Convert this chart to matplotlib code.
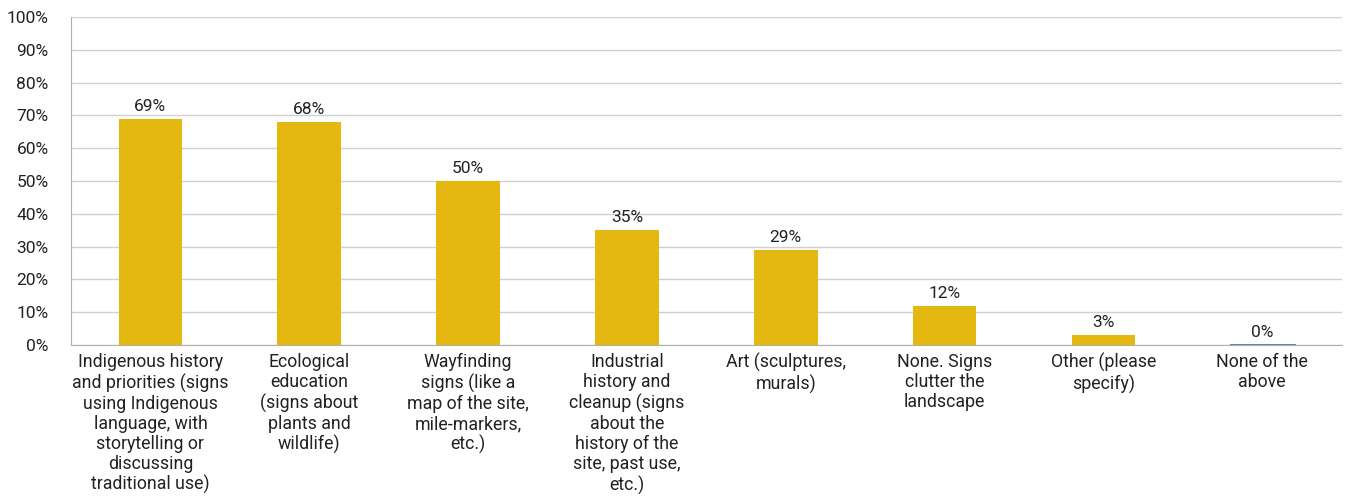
import matplotlib
matplotlib.use("Agg")
import matplotlib.pyplot as plt
from matplotlib.ticker import FuncFormatter

categories = [
    "Indigenous history\nand priorities (signs\nusing Indigenous\nlanguage, with\nstorytelling or\ndiscussing\ntraditional use)",
    "Ecological\neducation\n(signs about\nplants and\nwildlife)",
    "Wayfinding\nsigns (like a\nmap of the site,\nmile-markers,\netc.)",
    "Industrial\nhistory and\ncleanup (signs\nabout the\nhistory of the\nsite, past use,\netc.)",
    "Art (sculptures,\nmurals)",
    "None. Signs\nclutter the\nlandscape",
    "Other (please\nspecify)",
    "None of the\nabove",
]
values = [69, 68, 50, 35, 29, 12, 3, 0]
yticks = list(range(0, 101, 10))

plt.rcParams['font.family'] = ['Roboto', 'DejaVu Sans']

fig = plt.figure(figsize=(13.49, 4.97), dpi=100)
ax = fig.add_axes([0.0526, 0.306, 0.942, 0.660])

x = list(range(len(categories)))
colors = ["#E5B711"] * 7 + ["#4A72B0"]
bars = ax.bar(x, values, width=0.40, color=colors, zorder=3)
# thin line for 0% bar
ax.plot([7 - 0.20, 7 + 0.20], [0, 0], color="#4A72B0", lw=2, zorder=4)

for xi, v in zip(x, values):
    ax.text(xi, v + 1.5, f"{v}%", ha="center", va="bottom", fontsize=12.5, color="#222222")

ax.set_xlim(-0.5, len(categories) - 0.5)
ax.set_ylim(0, 100)
ax.set_yticks(yticks)
ax.yaxis.set_major_formatter(FuncFormatter(lambda v, p: f"{int(v)}%"))
ax.set_xticks(x)
ax.set_xticklabels(categories, fontsize=12.8, color="#222222", linespacing=1.15, va="top")
ax.tick_params(axis="y", labelsize=12.5, labelcolor="#222222", length=0, pad=16)
ax.tick_params(axis="x", length=0, pad=6)
ax.grid(axis="y", color="#d0d0d0", lw=1, zorder=0)
for s in ["top", "right"]:
    ax.spines[s].set_visible(False)
ax.spines["left"].set_color("#b0b0b0")
ax.spines["bottom"].set_color("#b0b0b0")

fig.savefig("out.png", dpi=100)
